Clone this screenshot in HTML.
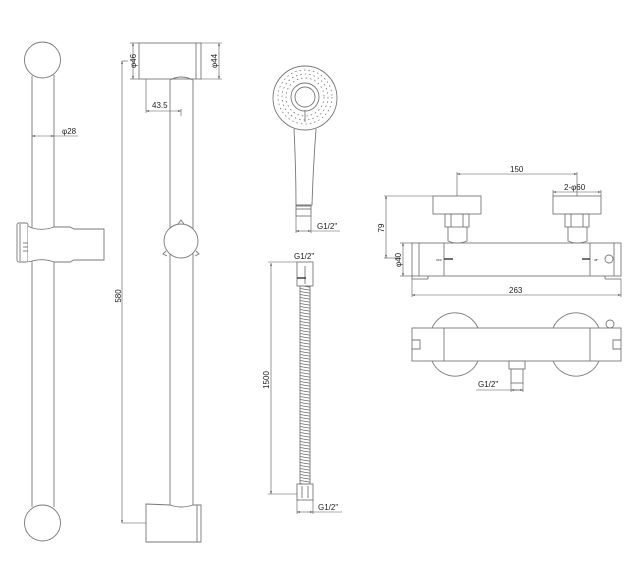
<!DOCTYPE html>
<html><head><meta charset="utf-8"><style>
html,body{margin:0;padding:0;background:#fff;}
svg{display:block;}
text{font-family:"Liberation Sans",sans-serif;font-size:8px;fill:#222;}
</style></head><body>
<svg width="630" height="571" viewBox="0 0 630 571" xmlns="http://www.w3.org/2000/svg">
<defs>
<marker id="a" viewBox="0 0 6 6" refX="6" refY="3" markerWidth="5" markerHeight="5" orient="auto-start-reverse"><path d="M0,1.5 L6,3 L0,4.5z" fill="#333"/></marker>
<pattern id="hose" x="0" y="0" width="12" height="3" patternUnits="userSpaceOnUse">
<path d="M0,0.5 L12,2.5" stroke="#666" stroke-width="0.7"/>
</pattern>
</defs>
<g fill="none" stroke="#777" stroke-width="0.9">
<!-- left bar -->
<line x1="32" y1="76" x2="32" y2="507"/>
<line x1="54" y1="75" x2="54" y2="507"/>
<circle cx="42.5" cy="60" r="18" fill="#fff"/>
<circle cx="42.5" cy="523" r="18" fill="#fff"/>
<rect x="17" y="223" width="11" height="39" rx="2" fill="#fff"/>
<line x1="20" y1="224" x2="20" y2="261"/>
<path d="M28,226 L32,228 Q43,231 54,227 L70,227 L74,229 L104,229 L104,260 L74,260 L70,262 L54,262 Q43,258 32,261 L28,262" fill="#fff"/>
<line x1="23" y1="243" x2="28" y2="243"/><line x1="23" y1="247" x2="28" y2="247"/><line x1="23" y1="251" x2="28" y2="251"/>
<!-- second bar -->
<line x1="170" y1="80" x2="170" y2="505"/>
<line x1="193" y1="80" x2="193" y2="505"/>
<rect x="139" y="43" width="62" height="36" fill="#fff"/>
<line x1="196" y1="43" x2="196" y2="79"/>
<path d="M170,80 Q181,74 193,80"/>
<circle cx="181" cy="241" r="17" fill="#fff"/>
<path d="M178,224 L181,220 L184,224"/><path d="M166,251 L163,254 L167,256"/><path d="M196,251 L199,254 L195,256"/>
<path d="M146,504 L170,505 Q181,509 193,505 L201,505 L201,542 L146,542 Z" fill="#fff"/>
<line x1="197" y1="505" x2="197" y2="542"/>
<!-- hand shower -->
<circle cx="305" cy="98" r="32"/>
<circle cx="305" cy="97" r="14"/>
<circle cx="305" cy="97" r="10"/>
<path d="M294,129 Q296,170 296,205 L312,205 Q313,170 316,129"/>
<line x1="305" y1="110" x2="305" y2="122"/>
<rect x="296" y="206" width="15" height="10"/>
<line x1="296" y1="209" x2="311" y2="209"/>
<!-- hose -->
<rect x="297" y="262" width="16" height="24"/>
<line x1="305" y1="266" x2="305" y2="284"/>
<rect x="300" y="286" width="10" height="198" fill="url(#hose)"/>
<rect x="297" y="484" width="16" height="16"/>
<line x1="302" y1="486" x2="302" y2="498"/><line x1="308" y1="486" x2="308" y2="498"/>
<!-- valve front -->
<rect x="412" y="243" width="209" height="33"/>
<line x1="419" y1="243" x2="419" y2="276"/>
<line x1="614" y1="243" x2="614" y2="276"/>
<line x1="444" y1="243" x2="444" y2="276"/>
<line x1="590" y1="243" x2="590" y2="276"/>
<line x1="412" y1="276" x2="412" y2="279"/><line x1="412" y1="279" x2="428" y2="279"/><line x1="428" y1="276" x2="428" y2="279"/>
<line x1="605" y1="276" x2="605" y2="279"/><line x1="605" y1="279" x2="621" y2="279"/>
<circle cx="609" cy="259" r="4"/>
<rect x="433" y="196" width="48" height="18"/>
<rect x="445" y="214" width="24" height="13"/>
<line x1="451" y1="214" x2="451" y2="227"/><line x1="463" y1="214" x2="463" y2="227"/>
<path d="M448,227 L448,241 Q457,245 467,241 L467,227"/>
<rect x="553" y="196" width="48" height="18"/>
<rect x="565" y="214" width="24" height="13"/>
<line x1="571" y1="214" x2="571" y2="227"/><line x1="583" y1="214" x2="583" y2="227"/>
<path d="M568,227 L568,241 Q577,245 587,241 L587,227"/>
<!-- valve bottom -->
<path d="M432,328 A25,25 0 0 1 478,328"/><path d="M432,361 A25,25 0 0 0 478,361"/>
<path d="M553,328 A25,25 0 0 1 599,328"/><path d="M553,361 A25,25 0 0 0 599,361"/>
<circle cx="610" cy="324" r="4"/>
<rect x="412" y="328" width="209" height="33"/>
<line x1="444" y1="328" x2="444" y2="361"/>
<line x1="590" y1="328" x2="590" y2="361"/>
<path d="M412,340 L420,340 L420,349 L412,349"/>
<path d="M621,340 L613,340 L613,349 L621,349"/>
<rect x="509" y="361" width="16" height="8"/>
<rect x="511" y="369" width="12" height="14"/>
</g>
<!-- shower dots -->
<g fill="none" stroke="#666" stroke-width="0.7">
<circle cx="305" cy="97" r="19" stroke-dasharray="1.5 3"/>
<circle cx="305" cy="97" r="23" stroke-dasharray="1.5 3"/>
<circle cx="305" cy="97" r="27" stroke-dasharray="1.5 3"/>
</g>
<g stroke="#222" stroke-width="1.3">
<line x1="444" y1="259" x2="453" y2="259"/><line x1="582" y1="259" x2="590" y2="259"/>
<line x1="297" y1="278" x2="306" y2="278"/>
</g>
<!-- dimensions -->
<g fill="none" stroke="#555" stroke-width="0.6">
<line x1="32" y1="136" x2="54" y2="136" marker-start="url(#a)" marker-end="url(#a)"/><line x1="54" y1="136" x2="78" y2="136"/>
<line x1="133" y1="43" x2="133" y2="79" marker-start="url(#a)" marker-end="url(#a)"/>
<line x1="219" y1="43" x2="219" y2="79" marker-start="url(#a)" marker-end="url(#a)"/>
<line x1="201" y1="43" x2="222" y2="43"/><line x1="201" y1="79" x2="222" y2="79"/>
<line x1="130" y1="43" x2="139" y2="43"/><line x1="130" y1="79" x2="139" y2="79"/>
<line x1="146" y1="79" x2="146" y2="113"/>
<line x1="146" y1="111" x2="181" y2="111" marker-start="url(#a)" marker-end="url(#a)"/>
<line x1="181" y1="109" x2="181" y2="116"/>
<line x1="122" y1="61" x2="122" y2="523" marker-start="url(#a)" marker-end="url(#a)"/>
<line x1="122" y1="523" x2="146" y2="523"/><line x1="122" y1="61" x2="128" y2="61"/>
<line x1="296" y1="216" x2="296" y2="233"/><line x1="311" y1="216" x2="311" y2="233"/>
<line x1="296" y1="231" x2="311" y2="231" marker-start="url(#a)" marker-end="url(#a)"/><line x1="311" y1="231" x2="340" y2="231"/>
<line x1="271" y1="263" x2="271" y2="494" marker-start="url(#a)" marker-end="url(#a)"/>
<line x1="268" y1="262" x2="297" y2="262"/><line x1="268" y1="494" x2="297" y2="494"/>
<line x1="297" y1="500" x2="297" y2="514"/><line x1="313" y1="500" x2="313" y2="514"/>
<line x1="297" y1="512" x2="313" y2="512" marker-start="url(#a)" marker-end="url(#a)"/><line x1="313" y1="512" x2="342" y2="512"/>
<line x1="457" y1="174" x2="577" y2="174" marker-start="url(#a)" marker-end="url(#a)"/>
<line x1="457" y1="172" x2="457" y2="196"/><line x1="577" y1="172" x2="577" y2="196"/>
<line x1="553" y1="192" x2="601" y2="192" marker-start="url(#a)" marker-end="url(#a)"/>
<line x1="553" y1="190" x2="553" y2="196"/><line x1="601" y1="190" x2="601" y2="196"/>
<line x1="386" y1="196" x2="386" y2="258" marker-start="url(#a)" marker-end="url(#a)"/>
<line x1="384" y1="196" x2="433" y2="196"/><line x1="384" y1="258" x2="400" y2="258"/>
<line x1="403" y1="243" x2="403" y2="276" marker-start="url(#a)" marker-end="url(#a)"/>
<line x1="400" y1="243" x2="412" y2="243"/><line x1="400" y1="276" x2="412" y2="276"/>
<line x1="412" y1="279" x2="412" y2="297"/><line x1="621" y1="279" x2="621" y2="297"/>
<line x1="412" y1="295" x2="621" y2="295" marker-start="url(#a)" marker-end="url(#a)"/>
<line x1="511" y1="383" x2="511" y2="392"/><line x1="523" y1="383" x2="523" y2="392"/>
<line x1="476" y1="390" x2="523" y2="390"/>
<line x1="511" y1="390" x2="523" y2="390" marker-start="url(#a)" marker-end="url(#a)"/>
</g>
<text x="62" y="134">φ28</text>
<text transform="translate(136,61) rotate(-90)" text-anchor="middle">φ46</text>
<text transform="translate(217,61) rotate(-90)" text-anchor="middle">φ44</text>
<text x="152" y="108">43.5</text>
<text transform="translate(121,296) rotate(-90)" text-anchor="middle">580</text>
<text x="317" y="229">G1/2"</text>
<text x="294" y="259">G1/2"</text>
<text transform="translate(269,380) rotate(-90)" text-anchor="middle">1500</text>
<text x="318" y="510">G1/2"</text>
<text x="510" y="172">150</text>
<text x="564" y="190">2-φ60</text>
<text transform="translate(384,228) rotate(-90)" text-anchor="middle">79</text>
<text transform="translate(401,260) rotate(-90)" text-anchor="middle">φ40</text>
<text x="509" y="293">263</text>
<text x="478" y="387">G1/2"</text>
<text x="436" y="261" style="font-size:3px">OFF</text>
<text x="594" y="261" style="font-size:3px">38°</text>
</svg>
</body></html>
